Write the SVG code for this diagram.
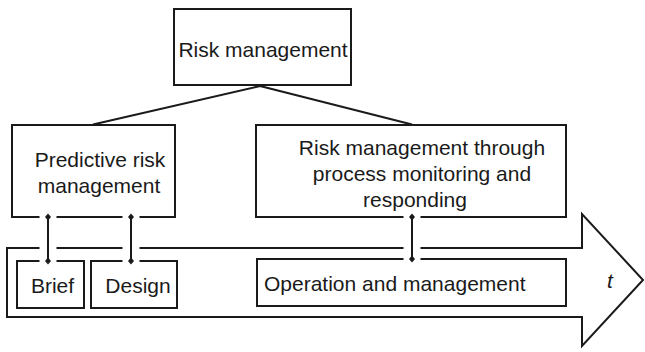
<svg xmlns="http://www.w3.org/2000/svg" width="645" height="352" viewBox="0 0 645 352">
  <style>
    .box { fill: #ffffff; stroke: #1a1a1a; stroke-width: 2; }
    .frame { fill: none; stroke: #1a1a1a; stroke-width: 2; }
    .label { font-family: "Liberation Sans", Arial, sans-serif; font-size: 21px; fill: #1a1a1a; }
    .mid { text-anchor: middle; }
    .link { stroke: #1a1a1a; stroke-width: 2; fill: none; }
    .gap { stroke: #ffffff; stroke-width: 17; }
    .tie { stroke: #1a1a1a; stroke-width: 2; marker-start: url(#dot); marker-end: url(#dot); }
  </style>
  <defs>
    <marker id="dot" viewBox="-4 -4 8 8" markerWidth="8" markerHeight="8" markerUnits="userSpaceOnUse" refX="0" refY="0" orient="auto">
      <path d="M-3.5 0 L0 -3 L3.5 0 L0 3 Z" fill="#1a1a1a"/>
    </marker>
  </defs>
  <rect width="645" height="352" fill="#ffffff"/>

  <!-- time axis arrow -->
  <g id="timeline">
    <polygon class="box" points="7,248 582,248 582,214 643,280 582,346 582,317 7,317"/>
    <text class="label" x="610" y="288" text-anchor="middle" font-style="italic">t</text>
  </g>

  <!-- hierarchy links -->
  <g id="tree-links">
    <path class="link" d="M260 86 L93 124.5 M260 86 L412 124.5"/>
  </g>

  <g id="risk-management">
    <rect class="box" x="174" y="9" width="177" height="76"/>
    <text class="label mid" x="263" y="57">Risk management</text>
  </g>

  <g id="predictive">
    <rect class="box" x="12" y="125" width="163" height="92"/>
    <text class="label mid" x="100" y="167">Predictive risk</text>
    <text class="label mid" x="99" y="193">management</text>
  </g>

  <g id="monitoring">
    <rect class="box" x="256" y="125" width="310" height="92"/>
    <text class="label mid" x="422" y="155">Risk management through</text>
    <text class="label mid" x="422" y="181">process monitoring and</text>
    <text class="label mid" x="415" y="207">responding</text>
  </g>

  <g id="brief">
    <rect class="box" x="17" y="261" width="67" height="47"/>
    <text class="label mid" x="52.5" y="293">Brief</text>
  </g>

  <g id="design">
    <rect class="box" x="91" y="261" width="86" height="47"/>
    <text class="label mid" x="138" y="293">Design</text>
  </g>

  <g id="operation">
    <rect class="box" x="257" y="259" width="309" height="47"/>
    <text class="label" x="264" y="291">Operation and management</text>
  </g>

  <!-- phase ties between strategies and stages -->
  <g id="connectors">
    <line class="gap" x1="48" y1="215" x2="48" y2="263"/>
    <line class="gap" x1="131" y1="215" x2="131" y2="263"/>
    <line class="gap" x1="412" y1="215" x2="412" y2="261"/>
    <line class="tie" x1="48" y1="217" x2="48" y2="261"/>
    <line class="tie" x1="131" y1="217" x2="131" y2="261"/>
    <line class="tie" x1="412" y1="217" x2="412" y2="259"/>
  </g>
</svg>
